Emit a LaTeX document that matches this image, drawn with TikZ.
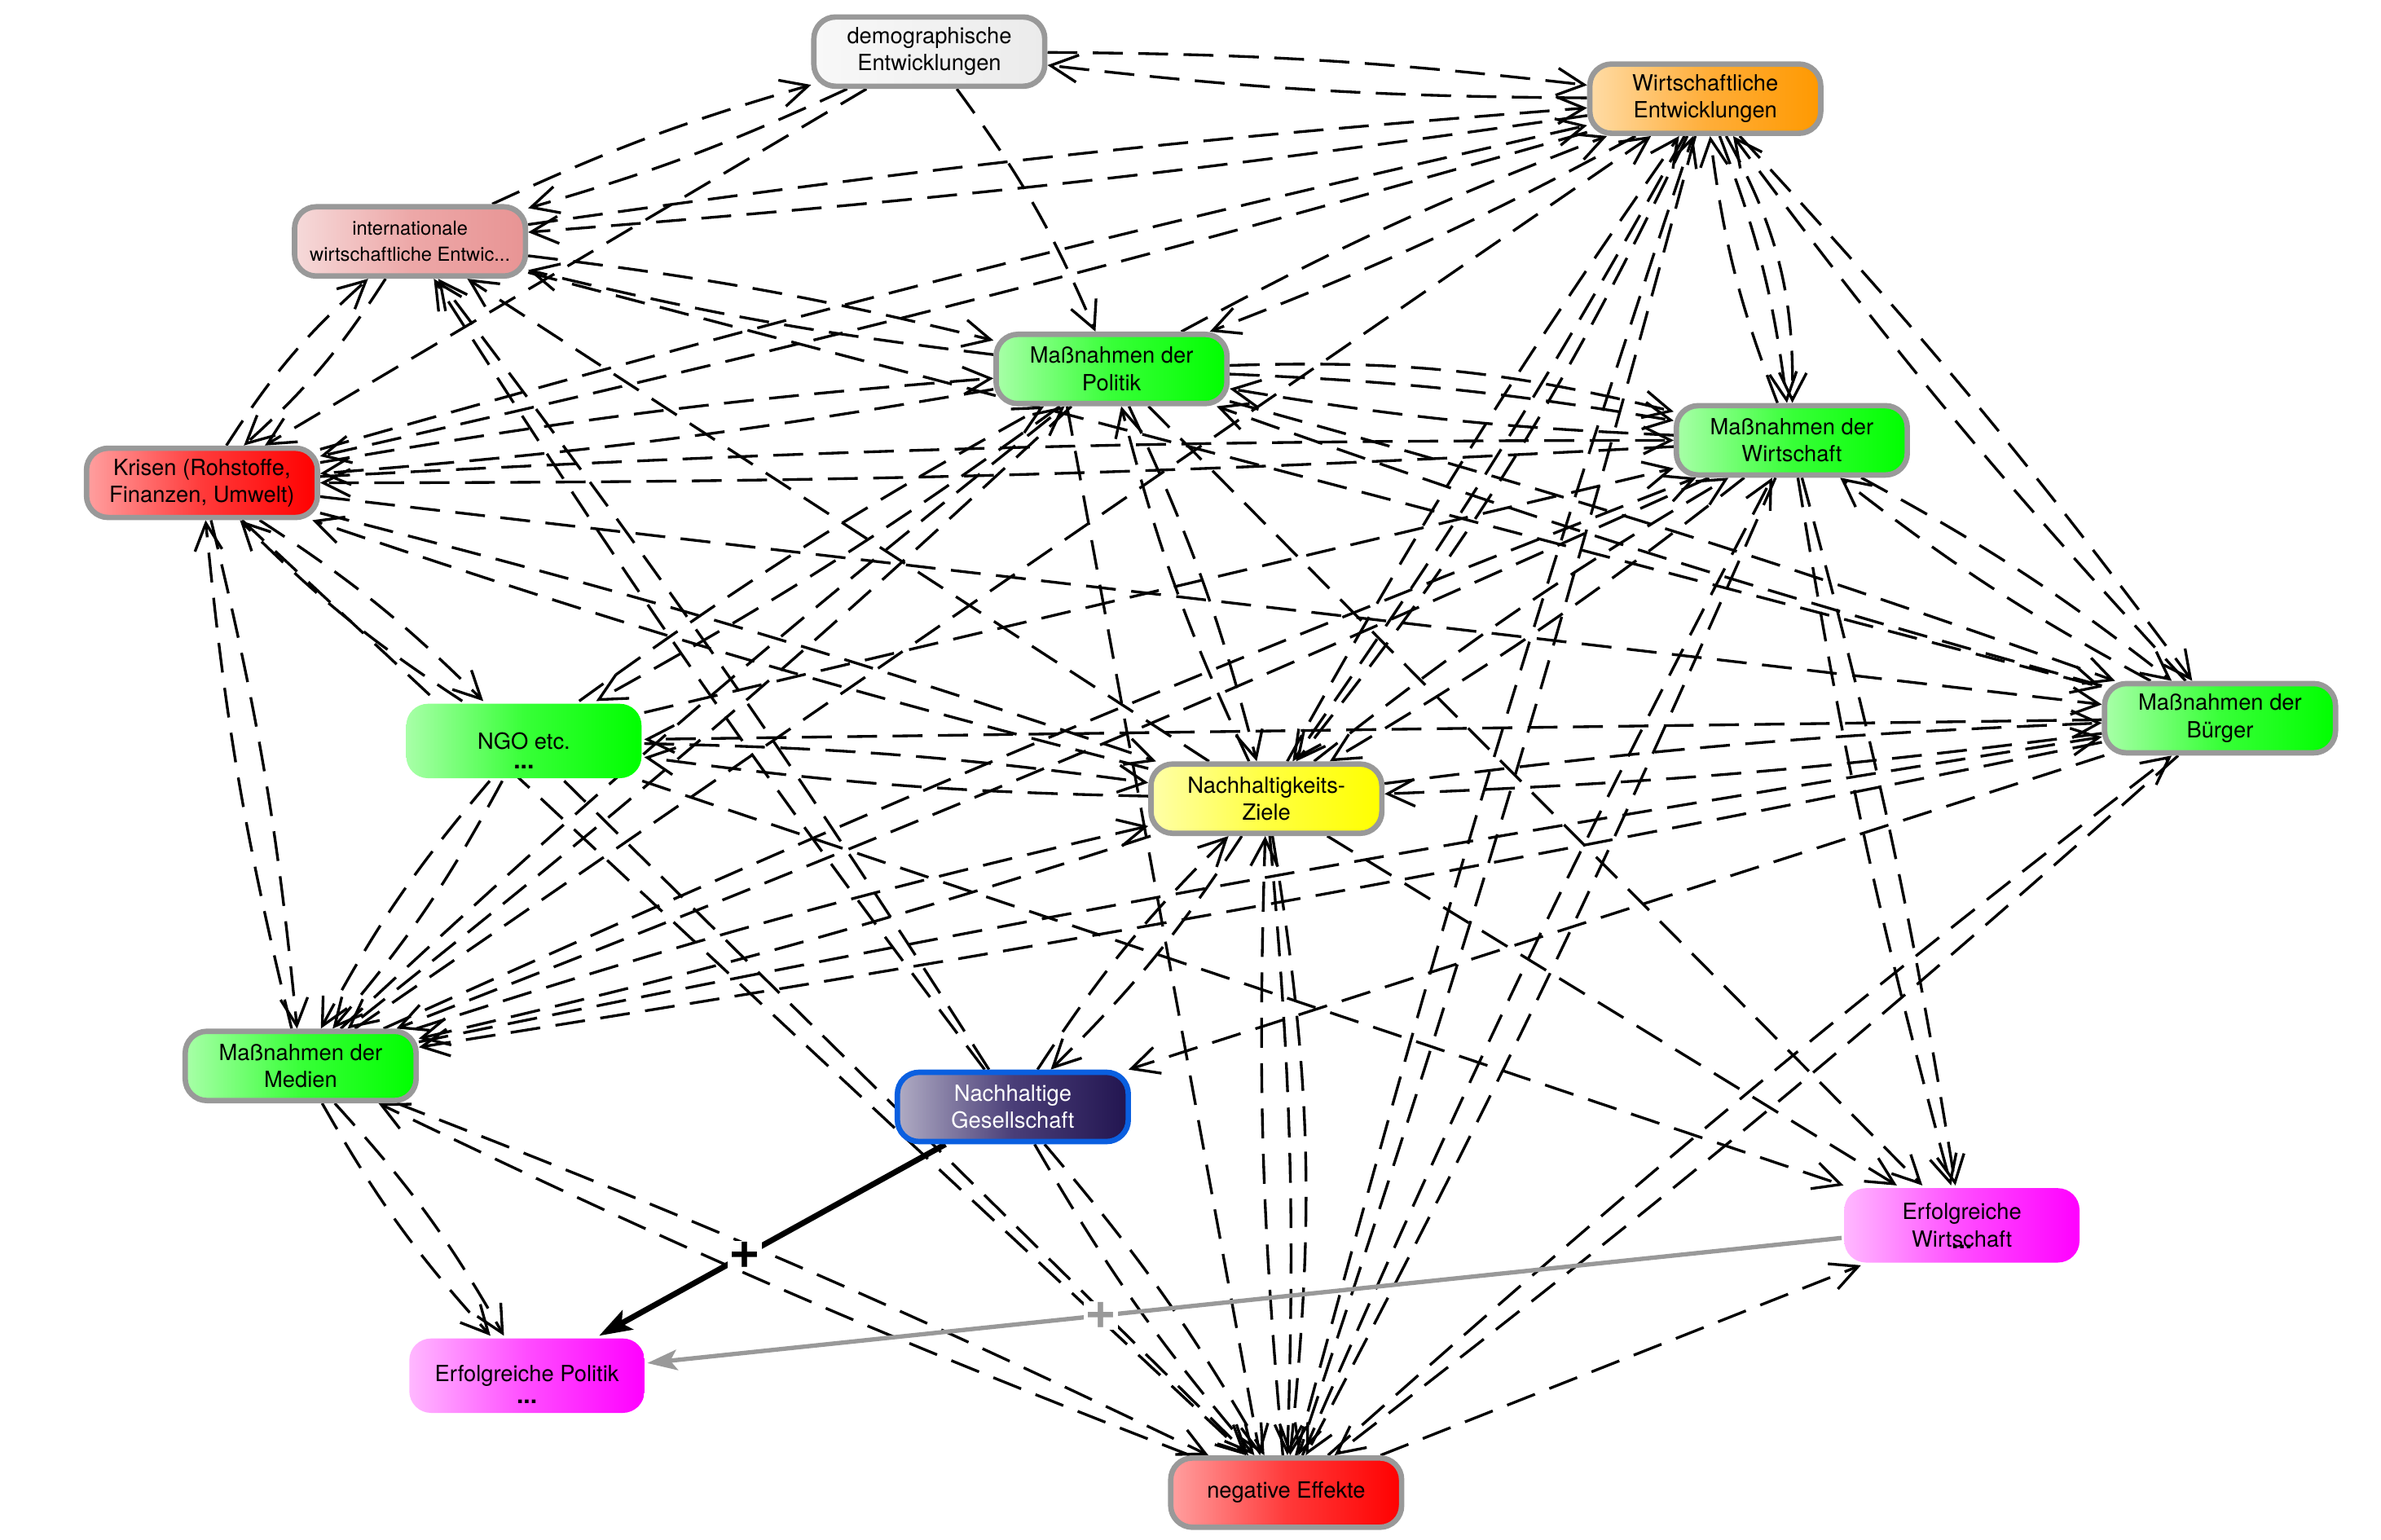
\documentclass[tikz,border=0pt]{standalone}
\usepackage{fontspec}
\setmainfont{TeX Gyre Heros}
\usetikzlibrary{arrows.meta,backgrounds,calc}

\definecolor{bgray}{HTML}{999999}
\definecolor{gL}{HTML}{A8FFA8}\definecolor{gM}{HTML}{38FF38}\definecolor{gR}{HTML}{00FF00}
\definecolor{oL}{HTML}{FFDCA6}\definecolor{oM}{HTML}{FFAE3A}\definecolor{oR}{HTML}{FF9900}
\definecolor{rL}{HTML}{FFA0A0}\definecolor{rM}{HTML}{FF3A3A}\definecolor{rR}{HTML}{FF0000}
\definecolor{yL}{HTML}{FFFFA8}\definecolor{yM}{HTML}{FFFF40}\definecolor{yR}{HTML}{FFFF00}
\definecolor{pL}{HTML}{F6DADA}\definecolor{pM}{HTML}{EDA8A8}\definecolor{pR}{HTML}{E89494}
\definecolor{dL}{HTML}{F8F8F8}\definecolor{dR}{HTML}{EBEBEB}
\definecolor{nL}{HTML}{B0ACC4}\definecolor{nM}{HTML}{4A3E78}\definecolor{nR}{HTML}{221550}
\definecolor{mL}{HTML}{FFB8FF}\definecolor{mM}{HTML}{FF4CFF}\definecolor{mR}{HTML}{FF00FF}
\definecolor{gesblue}{HTML}{0A5FE0}

\newcommand\mylink[3][1]{\draw[lk] let \p1=($(#3)-(#2)$), \n1={veclen(\x1,\y1)}, \n2={#1*min(12,883/\n1)} in (#2) to[bend left=\n2] (#3);}

\begin{document}
\begin{tikzpicture}[x=0.559pt,y=-0.559pt,
  box/.style={rounded corners=8pt, draw=bgray, line width=2pt, minimum width=85pt, minimum height=25.5pt,
     align=center, font=\fontsize{8.2}{10}\selectfont, inner sep=1pt},
  plainbox/.style={box, draw=none, minimum width=86.6pt, minimum height=27.4pt},
  shgreen/.style={left color=gL, right color=gR, middle color=gM},
  shorange/.style={left color=oL, right color=oR, middle color=oM},
  shred/.style={left color=rL, right color=rR, middle color=rM},
  shyellow/.style={left color=yL, right color=yR, middle color=yM},
  shpink/.style={left color=pL, right color=pR, middle color=pM},
  shgray/.style={left color=dL, right color=dR},
  shnavy/.style={left color=nL, right color=nR, middle color=nM},
  shmag/.style={left color=mL, right color=mR, middle color=mM},
  dots/.style={font=\bfseries\fontsize{9}{9}\selectfont, inner sep=0pt},
  lk/.style={line width=1pt, dash pattern=on 11pt off 5.7pt, -{Straight Barb[length=10pt,width=10pt]}},
  thk/.style={line width=2.1pt, -{Stealth[length=12pt,width=8pt,inset=2.5pt]}},
  gry/.style={line width=1.6pt, draw=bgray, -{Stealth[length=11pt,width=7.5pt,inset=2.5pt]}},
  plusb/.style={fill=white, inner sep=0.5pt, font=\bfseries\fontsize{20}{20}\selectfont},
  plusg/.style={fill=white, inner sep=0.5pt, text=bgray, font=\bfseries\fontsize{20}{20}\selectfont}
]
\useasboundingbox (0,0) rectangle (1568,1014);

% nodes
\node[box, shgray]   (D)  at (612,34)   {demographische\\Entwicklungen};
\node[box, shorange] (WE) at (1123,65)  {Wirtschaftliche\\Entwicklungen};
\node[box, shpink, font=\fontsize{7.1}{9.5}\selectfont] (I) at (270,159) {internationale\\wirtschaftliche Entwic...};
\node[box, shgreen]  (P)  at (732,243)  {Maßnahmen der\\Politik};
\node[box, shgreen]  (W)  at (1180,290) {Maßnahmen der\\Wirtschaft};
\node[box, shred]    (K)  at (133,318)  {Krisen (Rohstoffe,\\Finanzen, Umwelt)};
\node[box, shgreen]  (B)  at (1462,473) {Maßnahmen der\\Bürger};
\node[plainbox, shgreen] (N) at (345,488) {NGO etc.};
\node[dots] (Nd) at ([yshift=-9.5pt]N.center) {...};
\node[box, shyellow] (Z)  at (834,526)  {Nachhaltigkeits-\\Ziele};
\node[box, shgreen]  (M)  at (198,702)  {Maßnahmen der\\Medien};
\node[box, shnavy, draw=gesblue, text=white] (G) at (667,729) {Nachhaltige\\Gesellschaft};
\node[plainbox, shmag] (EW) at (1292,807) {Erfolgreiche\\Wirtschaft};
\node[dots] (EWd) at ([yshift=-8pt]EW.center) {...};
\node[plainbox, shmag] (EP) at (347,906) {Erfolgreiche Politik};
\node[dots] (EPd) at ([yshift=-9.5pt]EP.center) {...};
\node[box, shred]    (NE) at (847,983)  {negative Effekte};

\begin{scope}[on background layer]
\fill[white] (0,0) rectangle (1568,1014);
\mylink{D}{WE} \mylink{WE}{D}
\mylink{D}{I} \mylink{I}{D}
\mylink{D}{P}
\mylink[0]{D}{K}
\mylink{I}{WE} \mylink{WE}{I}
\mylink{K}{WE} \mylink{WE}{K}
\mylink{P}{WE} \mylink{WE}{P}
\mylink{W}{WE} \mylink{WE}{W} \mylink[2.2]{WE}{W}
\mylink{WE}{B} \mylink{B}{WE}
\mylink{Z}{WE} \mylink{WE}{Z} \mylink[2.2]{WE}{Z}
\mylink{NE}{WE} \mylink{WE}{NE}
\mylink[0]{M}{WE}
\mylink{I}{P} \mylink{P}{I}
\mylink{K}{P} \mylink{P}{K}
\mylink{K}{W} \mylink{W}{K}
\mylink{I}{K} \mylink{K}{I}
\mylink[0]{I}{B}
\mylink[0]{Z}{I}
\mylink{G}{I} \mylink[-1]{G}{I}
\mylink{K}{M} \mylink{M}{K}
\mylink{N}{K} \mylink{K}{N}
\mylink{Z}{K} \mylink{K}{Z}
\mylink[0]{K}{B}
\mylink[0]{K}{NE}
\mylink{P}{W} \mylink[2.2]{P}{W} \mylink{W}{P}
\mylink{P}{B} \mylink{B}{P}
\mylink{P}{Z} \mylink{Z}{P}
\draw[lk] (P.-140) -- (NE.125);
\mylink{P}{N} \mylink{N}{P}
\mylink{P}{M} \mylink{M}{P}
\mylink[0]{P}{EW}
\mylink{W}{B} \mylink{B}{W}
\mylink{W}{Z} \mylink{Z}{W}
\mylink[0]{N}{W}
\mylink{W}{M} \mylink{M}{W}
\mylink{W}{NE} \mylink{NE}{W}
\mylink{W}{EW} \mylink[-1]{W}{EW}
\mylink{B}{Z} \mylink{Z}{B}
\mylink[0]{B}{N}
\mylink{B}{M} \mylink{M}{B}
\mylink[0]{B}{G}
\mylink{B}{NE} \mylink{NE}{B}
\mylink{Z}{N} \mylink{N}{Z}
\mylink{M}{Z} \mylink{Z}{M}
\mylink{G}{Z} \mylink{Z}{G}
\mylink{Z}{NE} \mylink{NE}{Z} \mylink[2.2]{Z}{NE}
\mylink[0]{Z}{EW}
\mylink{N}{M} \mylink[-1]{N}{M}
\mylink[0]{N}{NE}
\mylink[0]{N}{EW}
\mylink{M}{EP} \mylink[-1]{M}{EP}
\mylink{M}{NE} \mylink{NE}{M}
\mylink{G}{NE} \mylink[-1]{G}{NE}
\mylink[0]{NE}{EW}
\draw[thk] (G) -- node[pos=.58, plusb] (plusG) {+} (EP);
\draw[gry] (EW) -- node[pos=.62, plusg] (plusE) {+} (EP);
\end{scope}
\end{tikzpicture}
\end{document}
